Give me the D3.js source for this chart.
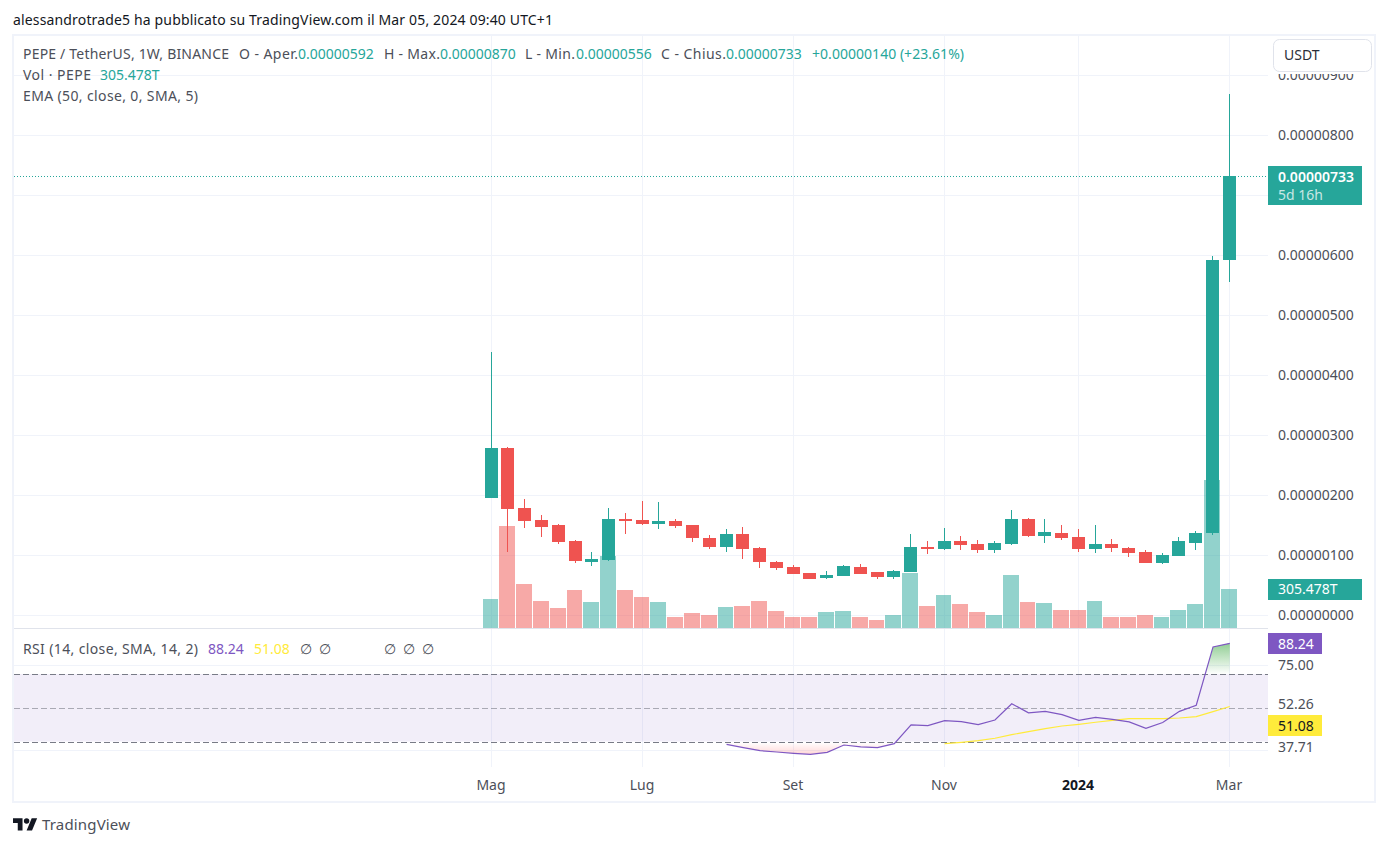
<!DOCTYPE html>
<html><head><meta charset="utf-8">
<style>html,body{margin:0;padding:0;background:#fff}svg{display:block}text{font-family:"Noto Sans",sans-serif}</style>
<script src="https://cdnjs.cloudflare.com/ajax/libs/d3/7.8.5/d3.min.js"></script>
</head><body><svg id="c" width="1388" height="846"></svg>
<script>
// Weekly candles, in units of 0.000001 USDT
const opens =[1.96,2.79,1.79,1.59,1.51,1.24,0.89,0.93,1.61,1.59,1.525,1.575,1.51,1.29,1.14,1.36,1.125,0.89,0.81,0.71,0.625,0.66,0.81,0.725,0.64,0.725,1.14,1.11,1.24,1.19,1.09,1.19,1.61,1.325,1.375,1.31,1.11,1.19,1.125,1.06,0.875,0.99,1.21,1.375,5.92];
const highs =[4.39,2.81,1.94,1.675,1.525,1.26,1.06,1.79,1.71,1.91,1.89,1.61,1.51,1.34,1.44,1.475,1.14,0.91,0.84,0.71,0.74,0.84,0.86,0.725,0.76,1.36,1.24,1.46,1.325,1.26,1.24,1.76,1.625,1.61,1.51,1.44,1.51,1.275,1.14,1.09,1.04,1.31,1.41,6.00,8.70];
const lows  =[1.96,1.06,1.46,1.31,1.19,0.875,0.825,0.91,1.36,1.51,1.44,1.46,1.225,1.11,1.06,0.94,0.79,0.76,0.69,0.61,0.61,0.66,0.69,0.61,0.61,0.725,1.025,1.09,1.09,1.04,1.04,1.175,1.31,1.21,1.26,1.06,1.04,1.06,0.975,0.875,0.86,0.99,1.09,1.34,5.56];
const closes=[2.79,1.775,1.575,1.475,1.225,0.91,0.94,1.61,1.575,1.525,1.575,1.49,1.29,1.14,1.36,1.11,0.89,0.79,0.69,0.61,0.675,0.825,0.69,0.64,0.74,1.14,1.11,1.24,1.175,1.09,1.21,1.61,1.325,1.39,1.29,1.11,1.19,1.125,1.04,0.875,1.01,1.24,1.375,5.92,7.33];
// Volume in trillions
const volumes=[227,799,345,211,157,298,204,564,298,243,204,86,117,102,164,172,211,133,86,86,125,133,86,63,102,431,172,258,188,125,102,415,204,196,141,141,211,86,86,102,86,141,188,1159,305.478];
// RSI, from week 14 on; SMA, from week 27 on
const rsiValues=[28.8,26.9,25.1,24.3,23.5,22.9,24.1,28.4,27.3,26.9,29.2,40.2,39.8,42.7,42.2,40.4,43.1,52.7,47.3,48.2,46.3,42.9,44.7,43.5,42.0,38.2,41.6,48.2,51.8,86.1,88.24];
const smaValues=[29.2,30,31,32.4,34.5,36.3,38,39.6,40.6,41.8,42.9,43.9,43.9,43.9,44.3,45.1,48,51.08];
const priceTicks=[0,1,2,3,4,5,6,8,9];
const timeTicks=[["Mag",0],["Lug",9],["Set",18],["Nov",27],["2024",35],["Mar",44]];
const rsiLabels=[["75.00",665],["52.26",704],["37.71",747]];

const UP="#26a69a",DOWN="#ef5350",TXT="#4c4f59",GRID="#f0f3fa",PURPLE="#7e57c2",YELLOW="#ffeb3b";
const R=1268,L=14;
const svg=d3.select("#c");
const x=d3.scaleLinear().domain([0,44]).range([491.7,1229.8]);
const y=d3.scaleLinear().domain([0,9]).range([615.5,75.5]);
const yv=d3.scaleLinear().domain([0,305.478]).range([628,589]);
const yr=d3.scaleLinear().domain([30,70]).range([742.3,674.3]);
const fmt=d3.format(".8f");
const label=(s,tx,ty,col,opt={})=>{
  const t=svg.append("text").attr("x",tx).attr("y",ty).attr("dy","0.33em").attr("fill",col)
  .attr("font-size",opt.size||14).attr("font-weight",opt.weight||400).attr("text-anchor",opt.anchor||"start").text(s);
  if(opt.len)t.attr("textLength",opt.len).attr("lengthAdjust","spacing");
  return t;};

// frame
svg.append("rect").attr("x",13).attr("y",35).attr("width",1362).attr("height",767).attr("fill","#fff").attr("stroke","#f0f3fa").attr("stroke-width",2);

const defs=svg.append("defs");
defs.append("clipPath").attr("id","clipTop").append("rect").attr("x",0).attr("y",74).attr("width",1388).attr("height",700);
defs.append("clipPath").attr("id","above").append("rect").attr("x",L).attr("y",630).attr("width",R-L).attr("height",yr(70)-630);
defs.append("clipPath").attr("id","below").append("rect").attr("x",L).attr("y",yr(30)).attr("width",R-L).attr("height",30);
const grad=(id,y1,y2,col,o1,o2)=>{const g=defs.append("linearGradient").attr("id",id).attr("gradientUnits","userSpaceOnUse").attr("x1",0).attr("x2",0).attr("y1",y1).attr("y2",y2);
  g.append("stop").attr("offset",0).attr("stop-color",col).attr("stop-opacity",o1);
  g.append("stop").attr("offset",1).attr("stop-color",col).attr("stop-opacity",o2);};
grad("gUp",yr(100),yr(70),"#4caf50",1,0);
grad("gDn",yr(30),yr(0),"#ff5252",0,1);

// grid
const gridLine=(x1,x2,y1,y2)=>svg.append("line").attr("x1",x1).attr("x2",x2).attr("y1",y1).attr("y2",y2).attr("stroke",GRID).attr("stroke-width",1);
priceTicks.concat([7]).forEach(t=>gridLine(L,R,y(t),y(t)));
[75,25].forEach(t=>gridLine(L,R,Math.floor(yr(t))+.5,Math.floor(yr(t))+.5));
timeTicks.forEach(t=>{const v=Math.floor(x(t[1]))+.5;gridLine(v,v,36,767)});
gridLine(L,R,628.5,628.5).attr("stroke","#e0e3eb");

// price axis labels
const pa=svg.append("g").attr("clip-path","url(#clipTop)");
priceTicks.forEach(t=>pa.append("text").attr("x",1278).attr("y",y(t)).attr("dy","0.33em").attr("fill",TXT).attr("font-size",14).text(fmt(t/1e6)));

// last price dotted line
const lastY=Math.round(y(closes[44]))+.5;
svg.append("line").attr("x1",L).attr("x2",R).attr("y1",lastY).attr("y2",lastY).attr("stroke",UP).attr("stroke-dasharray","1 2").attr("shape-rendering","crispEdges");

// volume
const iota=d3.range(volumes.length);
const isUp=i=>closes[i]>=opens[i];
const vLeft=i=>Math.round(x(i)-9);
svg.append("g").selectAll("rect").data(iota).join("rect")
 .attr("x",vLeft).attr("width",i=>i<44?vLeft(i+1)-vLeft(i)-1:16)
 .attr("y",i=>yv(volumes[i])).attr("height",i=>yv(0)-yv(volumes[i]))
 .attr("fill",i=>isUp(i)?UP:DOWN).attr("fill-opacity",.5).attr("shape-rendering","crispEdges");

// candles
const cLeft=i=>Math.floor(x(i)-6.5);
const cg=svg.append("g").attr("shape-rendering","crispEdges");
cg.selectAll("line").data(iota).join("line")
 .attr("x1",i=>cLeft(i)+6.5).attr("x2",i=>cLeft(i)+6.5)
 .attr("y1",i=>y(highs[i])).attr("y2",i=>y(lows[i]))
 .attr("stroke",i=>isUp(i)?UP:DOWN);
cg.selectAll("rect").data(iota).join("rect")
 .attr("x",cLeft).attr("width",13)
 .attr("y",i=>y(Math.max(opens[i],closes[i]))).attr("height",i=>Math.max(1,y(Math.min(opens[i],closes[i]))-y(Math.max(opens[i],closes[i]))))
 .attr("fill",i=>isUp(i)?UP:DOWN);

// RSI band
svg.append("rect").attr("x",L).attr("width",R-L).attr("y",yr(70)-.3).attr("height",yr(30)-yr(70)-.5).attr("fill",PURPLE).attr("fill-opacity",.1);
[[70,1],[50,.6],[30,1]].forEach(([v,o])=>svg.append("line").attr("x1",L).attr("x2",R).attr("y1",Math.round(yr(v))+.5).attr("y2",Math.round(yr(v))+.5)
 .attr("stroke","#787b86").attr("stroke-opacity",o).attr("stroke-dasharray","6 3").attr("shape-rendering","crispEdges"));

const rsiPts=rsiValues.map((v,i)=>[i+14,v]);
const smaPts=smaValues.map((v,i)=>[i+27,v]);
svg.append("path").datum(rsiPts).attr("clip-path","url(#above)").attr("fill","url(#gUp)")
 .attr("d",d3.area().x(d=>x(d[0])).y0(yr(70)).y1(d=>yr(d[1])));
svg.append("path").datum(rsiPts).attr("clip-path","url(#below)").attr("fill","url(#gDn)")
 .attr("d",d3.area().x(d=>x(d[0])).y0(yr(30)).y1(d=>yr(d[1])));
const ln=d3.line().x(d=>x(d[0])).y(d=>yr(d[1]));
svg.append("path").datum(smaPts).attr("fill","none").attr("stroke",YELLOW).attr("stroke-width",1.2).attr("d",ln);
svg.append("path").datum(rsiPts).attr("fill","none").attr("stroke",PURPLE).attr("stroke-width",1.2).attr("d",ln);

// tags
const tag=(tx,ty,w,h,col)=>svg.append("rect").attr("x",tx).attr("y",ty).attr("width",w).attr("height",h).attr("fill",col);
tag(R,166,94,39,UP);
label("0.00000733",1278,177,"#fff",{weight:600});
svg.append("text").attr("x",1278).attr("y",195).attr("dy","0.33em").attr("fill","#fff").attr("fill-opacity",.75).attr("font-size",14).text("5d 16h");
tag(R,579,94,21,UP); label("305.478T",1278,589.5,"#fff");
tag(R,633,54,21,PURPLE); label("88.24",1278,644,"#fff");
tag(R,715,54,21,YELLOW); label("51.08",1278,726,"#131722");
rsiLabels.forEach(d=>label(d[0],1278,d[1],TXT));

// time axis
timeTicks.forEach(t=>label(t[0],Math.floor(x(t[1])),785,t[0]=="2024"?"#131722":TXT,{anchor:"middle",weight:t[0]=="2024"?700:400}));

// header legend
const rowY=54;
[["PEPE / TetherUS, 1W, BINANCE",23,TXT,206],["O - Aper.",239,TXT,59],["0.00000592",298,UP],["H - Max.",384,TXT,56],["0.00000870",440,UP],
 ["L - Min.",525,TXT,50],["0.00000556",576,UP],["C - Chius.",661,TXT,65],["0.00000733",726,UP],["+0.00000140 (+23.61%)",812,UP,152]]
 .forEach(d=>label(d[0],d[1],rowY,d[2],{len:d[3]}));
label("Vol · PEPE",23,75,TXT,{len:68}); label("305.478T",100,75,UP);
label("EMA (50, close, 0, SMA, 5)",23,96,TXT,{len:175});
label("RSI (14, close, SMA, 14, 2)",23,649,TXT,{len:175}); label("88.24",208,649,PURPLE); label("51.08",254,649,YELLOW);
[300,319,384,403,422].forEach(v=>label("∅",v,649,TXT));

// USDT button
svg.append("rect").attr("x",1273.5).attr("y",39.5).attr("width",98).attr("height",32).attr("rx",6).attr("fill","#fff").attr("stroke","#e0e3eb");
label("USDT",1284,55,"#2a2e39");

// top and bottom lines
label("alessandrotrade5 ha pubblicato su TradingView.com il Mar 05, 2024 09:40 UTC+1",13,20,"#131722",{len:540});
svg.append("path").attr("transform","translate(13,815.5) scale(0.68)").attr("fill","#131722")
 .attr("d","M14 22H7V11H0V4h14v18zM28 22h-8l7.5-18h8L28 22z");
svg.append("circle").attr("cx",13+20*.68).attr("cy",815.5+8*.68).attr("r",4*.68).attr("fill","#131722");
label("TradingView",42,825,"#4c4f59",{size:15,len:88});
</script></body></html>
